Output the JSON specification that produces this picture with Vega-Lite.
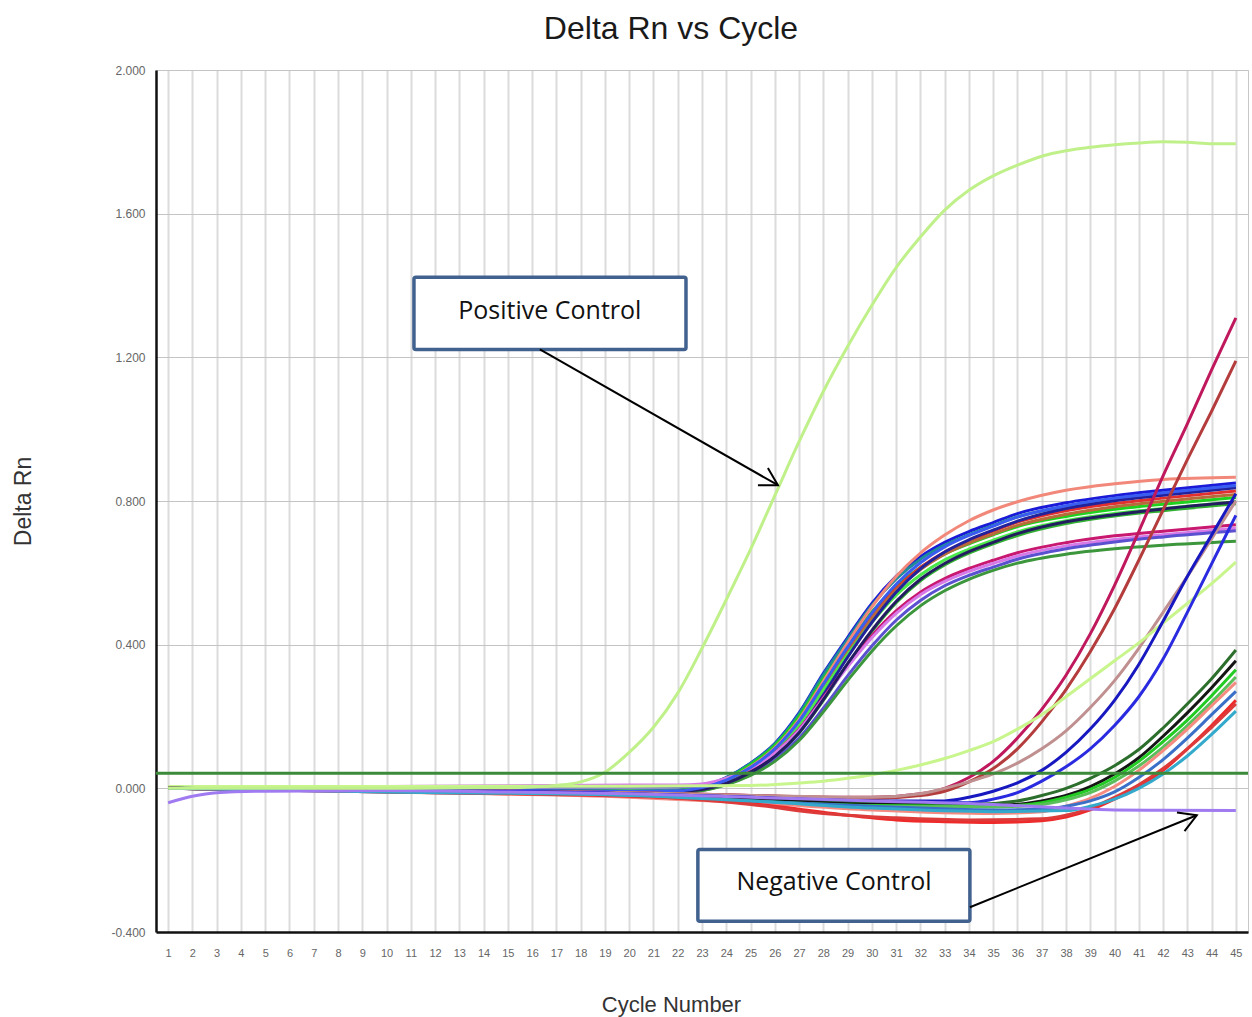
{
"$schema": "https://vega.github.io/schema/vega-lite/v6.json",
"width": 1092, "height": 862,
"autosize": {"type": "none"},
"padding": {"left": 156, "top": 70, "right": 4, "bottom": 85},
"background": "white",
"title": {"text": "Delta Rn vs Cycle", "fontSize": 32, "font": "Liberation Sans", "fontWeight": "normal", "color": "#1a1a1a", "anchor": "middle", "frame": "group", "dx": -31, "offset": -7, "baseline": "alphabetic"},
"config": {"view": {"stroke": "#c8c8c8", "strokeWidth": 1}, "font": "Liberation Sans", "axisX": {"labelOverlap": false}},
"datasets": {
"curves": [
{"s":"A","c":1,"v":0.002},{"s":"A","c":5,"v":0},{"s":"A","c":10,"v":-0.003},{"s":"A","c":15,"v":-0.006},{"s":"A","c":20,"v":-0.008},{"s":"A","c":22,"v":-0.006},{"s":"A","c":23,"v":0.005},{"s":"A","c":24,"v":0.03},{"s":"A","c":25,"v":0.07},{"s":"A","c":26,"v":0.125},{"s":"A","c":27,"v":0.21},{"s":"A","c":28,"v":0.32},{"s":"A","c":29,"v":0.42},{"s":"A","c":30,"v":0.515},{"s":"A","c":31,"v":0.59},{"s":"A","c":32,"v":0.645},{"s":"A","c":33,"v":0.685},{"s":"A","c":34,"v":0.715},{"s":"A","c":35,"v":0.74},{"s":"A","c":36,"v":0.765},{"s":"A","c":38,"v":0.795},{"s":"A","c":40,"v":0.815},{"s":"A","c":42,"v":0.83},{"s":"A","c":45,"v":0.85},
{"s":"B","c":1,"v":0},{"s":"B","c":5,"v":-0.002},{"s":"B","c":10,"v":-0.004},{"s":"B","c":15,"v":-0.008},{"s":"B","c":20,"v":-0.01},{"s":"B","c":22,"v":-0.008},{"s":"B","c":23,"v":0.004},{"s":"B","c":24,"v":0.029},{"s":"B","c":25,"v":0.069},{"s":"B","c":26,"v":0.123},{"s":"B","c":27,"v":0.207},{"s":"B","c":28,"v":0.316},{"s":"B","c":29,"v":0.415},{"s":"B","c":30,"v":0.509},{"s":"B","c":31,"v":0.583},{"s":"B","c":32,"v":0.638},{"s":"B","c":33,"v":0.677},{"s":"B","c":34,"v":0.706},{"s":"B","c":35,"v":0.732},{"s":"B","c":36,"v":0.756},{"s":"B","c":38,"v":0.785},{"s":"B","c":40,"v":0.806},{"s":"B","c":42,"v":0.82},{"s":"B","c":45,"v":0.84},
{"s":"C","c":1,"v":0.003},{"s":"C","c":5,"v":0.001},{"s":"C","c":10,"v":-0.002},{"s":"C","c":15,"v":-0.005},{"s":"C","c":20,"v":-0.007},{"s":"C","c":22,"v":-0.005},{"s":"C","c":23,"v":0.005},{"s":"C","c":24,"v":0.028},{"s":"C","c":25,"v":0.066},{"s":"C","c":26,"v":0.119},{"s":"C","c":27,"v":0.2},{"s":"C","c":28,"v":0.305},{"s":"C","c":29,"v":0.4},{"s":"C","c":30,"v":0.491},{"s":"C","c":31,"v":0.562},{"s":"C","c":32,"v":0.615},{"s":"C","c":33,"v":0.653},{"s":"C","c":34,"v":0.681},{"s":"C","c":35,"v":0.706},{"s":"C","c":36,"v":0.729},{"s":"C","c":38,"v":0.757},{"s":"C","c":40,"v":0.777},{"s":"C","c":42,"v":0.791},{"s":"C","c":45,"v":0.81},
{"s":"D","c":1,"v":0.002},{"s":"D","c":5,"v":0},{"s":"D","c":10,"v":-0.004},{"s":"D","c":15,"v":-0.008},{"s":"D","c":20,"v":-0.01},{"s":"D","c":22,"v":-0.009},{"s":"D","c":23,"v":0},{"s":"D","c":24,"v":0.023},{"s":"D","c":25,"v":0.06},{"s":"D","c":26,"v":0.113},{"s":"D","c":27,"v":0.192},{"s":"D","c":28,"v":0.298},{"s":"D","c":29,"v":0.405},{"s":"D","c":30,"v":0.505},{"s":"D","c":31,"v":0.59},{"s":"D","c":32,"v":0.655},{"s":"D","c":33,"v":0.705},{"s":"D","c":34,"v":0.745},{"s":"D","c":35,"v":0.775},{"s":"D","c":36,"v":0.798},{"s":"D","c":38,"v":0.83},{"s":"D","c":40,"v":0.848},{"s":"D","c":42,"v":0.86},{"s":"D","c":45,"v":0.866},
{"s":"E","c":1,"v":0},{"s":"E","c":5,"v":-0.003},{"s":"E","c":10,"v":-0.006},{"s":"E","c":15,"v":-0.01},{"s":"E","c":20,"v":-0.014},{"s":"E","c":22,"v":-0.013},{"s":"E","c":23,"v":-0.004},{"s":"E","c":24,"v":0.018},{"s":"E","c":25,"v":0.055},{"s":"E","c":26,"v":0.106},{"s":"E","c":27,"v":0.181},{"s":"E","c":28,"v":0.283},{"s":"E","c":29,"v":0.384},{"s":"E","c":30,"v":0.478},{"s":"E","c":31,"v":0.556},{"s":"E","c":32,"v":0.615},{"s":"E","c":33,"v":0.658},{"s":"E","c":34,"v":0.689},{"s":"E","c":35,"v":0.716},{"s":"E","c":36,"v":0.741},{"s":"E","c":38,"v":0.773},{"s":"E","c":40,"v":0.793},{"s":"E","c":42,"v":0.808},{"s":"E","c":45,"v":0.828},
{"s":"F","c":1,"v":0.001},{"s":"F","c":5,"v":-0.001},{"s":"F","c":10,"v":-0.004},{"s":"F","c":15,"v":-0.007},{"s":"F","c":20,"v":-0.01},{"s":"F","c":22,"v":-0.009},{"s":"F","c":23,"v":-0.001},{"s":"F","c":24,"v":0.021},{"s":"F","c":25,"v":0.056},{"s":"F","c":26,"v":0.106},{"s":"F","c":27,"v":0.18},{"s":"F","c":28,"v":0.28},{"s":"F","c":29,"v":0.38},{"s":"F","c":30,"v":0.474},{"s":"F","c":31,"v":0.551},{"s":"F","c":32,"v":0.609},{"s":"F","c":33,"v":0.652},{"s":"F","c":34,"v":0.683},{"s":"F","c":35,"v":0.708},{"s":"F","c":36,"v":0.732},{"s":"F","c":38,"v":0.763},{"s":"F","c":40,"v":0.784},{"s":"F","c":42,"v":0.799},{"s":"F","c":45,"v":0.818},
{"s":"G","c":1,"v":0.002},{"s":"G","c":5,"v":0},{"s":"G","c":10,"v":-0.003},{"s":"G","c":15,"v":-0.006},{"s":"G","c":20,"v":-0.009},{"s":"G","c":22,"v":-0.007},{"s":"G","c":23,"v":0.001},{"s":"G","c":24,"v":0.022},{"s":"G","c":25,"v":0.055},{"s":"G","c":26,"v":0.104},{"s":"G","c":27,"v":0.177},{"s":"G","c":28,"v":0.274},{"s":"G","c":29,"v":0.372},{"s":"G","c":30,"v":0.462},{"s":"G","c":31,"v":0.538},{"s":"G","c":32,"v":0.594},{"s":"G","c":33,"v":0.636},{"s":"G","c":34,"v":0.666},{"s":"G","c":35,"v":0.691},{"s":"G","c":36,"v":0.714},{"s":"G","c":38,"v":0.745},{"s":"G","c":40,"v":0.765},{"s":"G","c":42,"v":0.779},{"s":"G","c":45,"v":0.798},
{"s":"H","c":1,"v":0},{"s":"H","c":5,"v":-0.002},{"s":"H","c":10,"v":-0.005},{"s":"H","c":15,"v":-0.009},{"s":"H","c":20,"v":-0.012},{"s":"H","c":22,"v":-0.011},{"s":"H","c":23,"v":-0.006},{"s":"H","c":24,"v":0.012},{"s":"H","c":25,"v":0.043},{"s":"H","c":26,"v":0.088},{"s":"H","c":27,"v":0.154},{"s":"H","c":28,"v":0.245},{"s":"H","c":29,"v":0.345},{"s":"H","c":30,"v":0.437},{"s":"H","c":31,"v":0.517},{"s":"H","c":32,"v":0.578},{"s":"H","c":33,"v":0.622},{"s":"H","c":34,"v":0.655},{"s":"H","c":35,"v":0.681},{"s":"H","c":36,"v":0.704},{"s":"H","c":38,"v":0.737},{"s":"H","c":40,"v":0.758},{"s":"H","c":42,"v":0.773},{"s":"H","c":45,"v":0.792},
{"s":"I","c":1,"v":0.001},{"s":"I","c":5,"v":-0.001},{"s":"I","c":10,"v":-0.004},{"s":"I","c":15,"v":-0.008},{"s":"I","c":20,"v":-0.01},{"s":"I","c":22,"v":-0.009},{"s":"I","c":23,"v":-0.004},{"s":"I","c":24,"v":0.014},{"s":"I","c":25,"v":0.046},{"s":"I","c":26,"v":0.093},{"s":"I","c":27,"v":0.163},{"s":"I","c":28,"v":0.26},{"s":"I","c":29,"v":0.365},{"s":"I","c":30,"v":0.462},{"s":"I","c":31,"v":0.546},{"s":"I","c":32,"v":0.611},{"s":"I","c":33,"v":0.658},{"s":"I","c":34,"v":0.692},{"s":"I","c":35,"v":0.719},{"s":"I","c":36,"v":0.744},{"s":"I","c":38,"v":0.779},{"s":"I","c":40,"v":0.801},{"s":"I","c":42,"v":0.816},{"s":"I","c":45,"v":0.837},
{"s":"J","c":1,"v":0.004},{"s":"J","c":5,"v":0.004},{"s":"J","c":10,"v":0.004},{"s":"J","c":15,"v":0.005},{"s":"J","c":20,"v":0.006},{"s":"J","c":22,"v":0.006},{"s":"J","c":23,"v":0.01},{"s":"J","c":24,"v":0.026},{"s":"J","c":25,"v":0.055},{"s":"J","c":26,"v":0.099},{"s":"J","c":27,"v":0.164},{"s":"J","c":28,"v":0.253},{"s":"J","c":29,"v":0.343},{"s":"J","c":30,"v":0.425},{"s":"J","c":31,"v":0.494},{"s":"J","c":32,"v":0.546},{"s":"J","c":33,"v":0.584},{"s":"J","c":34,"v":0.612},{"s":"J","c":35,"v":0.635},{"s":"J","c":36,"v":0.656},{"s":"J","c":38,"v":0.684},{"s":"J","c":40,"v":0.703},{"s":"J","c":42,"v":0.716},{"s":"J","c":45,"v":0.734},
{"s":"K","c":1,"v":0.003},{"s":"K","c":5,"v":0.004},{"s":"K","c":10,"v":0.005},{"s":"K","c":15,"v":0.007},{"s":"K","c":20,"v":0.009},{"s":"K","c":22,"v":0.009},{"s":"K","c":23,"v":0.012},{"s":"K","c":24,"v":0.028},{"s":"K","c":25,"v":0.056},{"s":"K","c":26,"v":0.098},{"s":"K","c":27,"v":0.162},{"s":"K","c":28,"v":0.25},{"s":"K","c":29,"v":0.338},{"s":"K","c":30,"v":0.419},{"s":"K","c":31,"v":0.487},{"s":"K","c":32,"v":0.539},{"s":"K","c":33,"v":0.576},{"s":"K","c":34,"v":0.604},{"s":"K","c":35,"v":0.626},{"s":"K","c":36,"v":0.647},{"s":"K","c":38,"v":0.675},{"s":"K","c":40,"v":0.693},{"s":"K","c":42,"v":0.706},{"s":"K","c":45,"v":0.724},
{"s":"L","c":1,"v":0.001},{"s":"L","c":5,"v":0.002},{"s":"L","c":10,"v":0.003},{"s":"L","c":15,"v":0.004},{"s":"L","c":20,"v":0.004},{"s":"L","c":22,"v":0.004},{"s":"L","c":23,"v":0.005},{"s":"L","c":24,"v":0.016},{"s":"L","c":25,"v":0.041},{"s":"L","c":26,"v":0.081},{"s":"L","c":27,"v":0.14},{"s":"L","c":28,"v":0.223},{"s":"L","c":29,"v":0.313},{"s":"L","c":30,"v":0.396},{"s":"L","c":31,"v":0.468},{"s":"L","c":32,"v":0.523},{"s":"L","c":33,"v":0.564},{"s":"L","c":34,"v":0.593},{"s":"L","c":35,"v":0.616},{"s":"L","c":36,"v":0.638},{"s":"L","c":38,"v":0.667},{"s":"L","c":40,"v":0.686},{"s":"L","c":42,"v":0.7},{"s":"L","c":45,"v":0.717},
{"s":"M","c":1,"v":0},{"s":"M","c":5,"v":-0.002},{"s":"M","c":10,"v":-0.005},{"s":"M","c":15,"v":-0.009},{"s":"M","c":20,"v":-0.012},{"s":"M","c":22,"v":-0.011},{"s":"M","c":23,"v":-0.006},{"s":"M","c":24,"v":0.01},{"s":"M","c":25,"v":0.036},{"s":"M","c":26,"v":0.075},{"s":"M","c":27,"v":0.133},{"s":"M","c":28,"v":0.213},{"s":"M","c":29,"v":0.3},{"s":"M","c":30,"v":0.382},{"s":"M","c":31,"v":0.452},{"s":"M","c":32,"v":0.508},{"s":"M","c":33,"v":0.55},{"s":"M","c":34,"v":0.582},{"s":"M","c":35,"v":0.607},{"s":"M","c":36,"v":0.627},{"s":"M","c":38,"v":0.652},{"s":"M","c":40,"v":0.667},{"s":"M","c":42,"v":0.677},{"s":"M","c":45,"v":0.688},
{"s":"O","c":1,"v":0.001},{"s":"O","c":5,"v":0},{"s":"O","c":10,"v":-0.003},{"s":"O","c":15,"v":-0.006},{"s":"O","c":20,"v":-0.009},{"s":"O","c":22,"v":-0.008},{"s":"O","c":23,"v":-0.003},{"s":"O","c":24,"v":0.014},{"s":"O","c":25,"v":0.044},{"s":"O","c":26,"v":0.089},{"s":"O","c":27,"v":0.155},{"s":"O","c":28,"v":0.247},{"s":"O","c":29,"v":0.347},{"s":"O","c":30,"v":0.44},{"s":"O","c":31,"v":0.52},{"s":"O","c":32,"v":0.582},{"s":"O","c":33,"v":0.626},{"s":"O","c":34,"v":0.659},{"s":"O","c":35,"v":0.685},{"s":"O","c":36,"v":0.709},{"s":"O","c":38,"v":0.742},{"s":"O","c":40,"v":0.762},{"s":"O","c":42,"v":0.778},{"s":"O","c":45,"v":0.797},
{"s":"P","c":1,"v":0.002},{"s":"P","c":5,"v":0},{"s":"P","c":10,"v":-0.003},{"s":"P","c":15,"v":-0.006},{"s":"P","c":20,"v":-0.008},{"s":"P","c":22,"v":-0.007},{"s":"P","c":23,"v":0.002},{"s":"P","c":24,"v":0.023},{"s":"P","c":25,"v":0.058},{"s":"P","c":26,"v":0.11},{"s":"P","c":27,"v":0.187},{"s":"P","c":28,"v":0.29},{"s":"P","c":29,"v":0.393},{"s":"P","c":30,"v":0.488},{"s":"P","c":31,"v":0.568},{"s":"P","c":32,"v":0.628},{"s":"P","c":33,"v":0.672},{"s":"P","c":34,"v":0.704},{"s":"P","c":35,"v":0.73},{"s":"P","c":36,"v":0.755},{"s":"P","c":38,"v":0.787},{"s":"P","c":40,"v":0.808},{"s":"P","c":42,"v":0.823},{"s":"P","c":45,"v":0.843},
{"s":"LC1","c":1,"v":0},{"s":"LC1","c":10,"v":-0.005},{"s":"LC1","c":20,"v":-0.012},{"s":"LC1","c":25,"v":-0.02},{"s":"LC1","c":28,"v":-0.025},{"s":"LC1","c":30,"v":-0.025},{"s":"LC1","c":32,"v":-0.015},{"s":"LC1","c":33,"v":0},{"s":"LC1","c":34,"v":0.03},{"s":"LC1","c":35,"v":0.075},{"s":"LC1","c":36,"v":0.14},{"s":"LC1","c":37,"v":0.22},{"s":"LC1","c":38,"v":0.315},{"s":"LC1","c":39,"v":0.43},{"s":"LC1","c":40,"v":0.565},{"s":"LC1","c":41,"v":0.715},{"s":"LC1","c":42,"v":0.87},{"s":"LC1","c":43,"v":1.015},{"s":"LC1","c":44,"v":1.165},{"s":"LC1","c":45,"v":1.31},
{"s":"LC2","c":1,"v":0},{"s":"LC2","c":10,"v":-0.005},{"s":"LC2","c":20,"v":-0.012},{"s":"LC2","c":25,"v":-0.02},{"s":"LC2","c":28,"v":-0.025},{"s":"LC2","c":30,"v":-0.028},{"s":"LC2","c":32,"v":-0.02},{"s":"LC2","c":33,"v":-0.008},{"s":"LC2","c":34,"v":0.018},{"s":"LC2","c":35,"v":0.055},{"s":"LC2","c":36,"v":0.11},{"s":"LC2","c":37,"v":0.185},{"s":"LC2","c":38,"v":0.275},{"s":"LC2","c":39,"v":0.38},{"s":"LC2","c":40,"v":0.5},{"s":"LC2","c":41,"v":0.635},{"s":"LC2","c":42,"v":0.775},{"s":"LC2","c":43,"v":0.915},{"s":"LC2","c":44,"v":1.05},{"s":"LC2","c":45,"v":1.19},
{"s":"LRB","c":1,"v":0},{"s":"LRB","c":10,"v":-0.005},{"s":"LRB","c":20,"v":-0.012},{"s":"LRB","c":25,"v":-0.02},{"s":"LRB","c":30,"v":-0.025},{"s":"LRB","c":32,"v":-0.015},{"s":"LRB","c":33,"v":0},{"s":"LRB","c":34,"v":0.018},{"s":"LRB","c":35,"v":0.04},{"s":"LRB","c":36,"v":0.07},{"s":"LRB","c":37,"v":0.11},{"s":"LRB","c":38,"v":0.16},{"s":"LRB","c":39,"v":0.225},{"s":"LRB","c":40,"v":0.3},{"s":"LRB","c":41,"v":0.39},{"s":"LRB","c":42,"v":0.49},{"s":"LRB","c":43,"v":0.59},{"s":"LRB","c":44,"v":0.695},{"s":"LRB","c":45,"v":0.8},
{"s":"LLG","c":1,"v":0.005},{"s":"LLG","c":10,"v":0.005},{"s":"LLG","c":20,"v":0.006},{"s":"LLG","c":25,"v":0.008},{"s":"LLG","c":27,"v":0.015},{"s":"LLG","c":28,"v":0.02},{"s":"LLG","c":29,"v":0.028},{"s":"LLG","c":30,"v":0.038},{"s":"LLG","c":31,"v":0.05},{"s":"LLG","c":32,"v":0.065},{"s":"LLG","c":33,"v":0.083},{"s":"LLG","c":34,"v":0.105},{"s":"LLG","c":35,"v":0.13},{"s":"LLG","c":36,"v":0.165},{"s":"LLG","c":37,"v":0.205},{"s":"LLG","c":38,"v":0.255},{"s":"LLG","c":39,"v":0.305},{"s":"LLG","c":40,"v":0.355},{"s":"LLG","c":41,"v":0.405},{"s":"LLG","c":42,"v":0.46},{"s":"LLG","c":43,"v":0.515},{"s":"LLG","c":44,"v":0.57},{"s":"LLG","c":45,"v":0.63},
{"s":"LBA","c":1,"v":0},{"s":"LBA","c":10,"v":-0.005},{"s":"LBA","c":20,"v":-0.015},{"s":"LBA","c":25,"v":-0.025},{"s":"LBA","c":30,"v":-0.035},{"s":"LBA","c":33,"v":-0.035},{"s":"LBA","c":34,"v":-0.025},{"s":"LBA","c":35,"v":-0.008},{"s":"LBA","c":36,"v":0.015},{"s":"LBA","c":37,"v":0.05},{"s":"LBA","c":38,"v":0.1},{"s":"LBA","c":39,"v":0.165},{"s":"LBA","c":40,"v":0.245},{"s":"LBA","c":41,"v":0.345},{"s":"LBA","c":42,"v":0.465},{"s":"LBA","c":43,"v":0.59},{"s":"LBA","c":44,"v":0.705},{"s":"LBA","c":45,"v":0.82},
{"s":"LBB","c":1,"v":0},{"s":"LBB","c":10,"v":-0.005},{"s":"LBB","c":20,"v":-0.015},{"s":"LBB","c":25,"v":-0.025},{"s":"LBB","c":30,"v":-0.038},{"s":"LBB","c":34,"v":-0.04},{"s":"LBB","c":35,"v":-0.03},{"s":"LBB","c":36,"v":-0.012},{"s":"LBB","c":37,"v":0.02},{"s":"LBB","c":38,"v":0.06},{"s":"LBB","c":39,"v":0.11},{"s":"LBB","c":40,"v":0.175},{"s":"LBB","c":41,"v":0.255},{"s":"LBB","c":42,"v":0.36},{"s":"LBB","c":43,"v":0.49},{"s":"LBB","c":44,"v":0.625},{"s":"LBB","c":45,"v":0.76},
{"s":"VDG","c":1,"v":0},{"s":"VDG","c":10,"v":-0.008},{"s":"VDG","c":20,"v":-0.02},{"s":"VDG","c":25,"v":-0.03},{"s":"VDG","c":30,"v":-0.042},{"s":"VDG","c":34,"v":-0.045},{"s":"VDG","c":36,"v":-0.035},{"s":"VDG","c":37,"v":-0.02},{"s":"VDG","c":38,"v":0},{"s":"VDG","c":39,"v":0.028},{"s":"VDG","c":40,"v":0.063},{"s":"VDG","c":41,"v":0.108},{"s":"VDG","c":42,"v":0.168},{"s":"VDG","c":43,"v":0.235},{"s":"VDG","c":44,"v":0.305},{"s":"VDG","c":45,"v":0.385},
{"s":"VBK","c":1,"v":0},{"s":"VBK","c":10,"v":-0.008},{"s":"VBK","c":20,"v":-0.02},{"s":"VBK","c":25,"v":-0.03},{"s":"VBK","c":30,"v":-0.045},{"s":"VBK","c":35,"v":-0.048},{"s":"VBK","c":37,"v":-0.035},{"s":"VBK","c":38,"v":-0.02},{"s":"VBK","c":39,"v":0.005},{"s":"VBK","c":40,"v":0.04},{"s":"VBK","c":41,"v":0.085},{"s":"VBK","c":42,"v":0.145},{"s":"VBK","c":43,"v":0.21},{"s":"VBK","c":44,"v":0.28},{"s":"VBK","c":45,"v":0.355},
{"s":"VG","c":1,"v":0},{"s":"VG","c":10,"v":-0.008},{"s":"VG","c":20,"v":-0.02},{"s":"VG","c":25,"v":-0.035},{"s":"VG","c":30,"v":-0.048},{"s":"VG","c":35,"v":-0.05},{"s":"VG","c":37,"v":-0.04},{"s":"VG","c":38,"v":-0.025},{"s":"VG","c":39,"v":-0.003},{"s":"VG","c":40,"v":0.03},{"s":"VG","c":41,"v":0.075},{"s":"VG","c":42,"v":0.13},{"s":"VG","c":43,"v":0.19},{"s":"VG","c":44,"v":0.258},{"s":"VG","c":45,"v":0.33},
{"s":"VGM","c":1,"v":0},{"s":"VGM","c":10,"v":-0.008},{"s":"VGM","c":20,"v":-0.022},{"s":"VGM","c":25,"v":-0.036},{"s":"VGM","c":30,"v":-0.05},{"s":"VGM","c":35,"v":-0.052},{"s":"VGM","c":37,"v":-0.045},{"s":"VGM","c":38,"v":-0.032},{"s":"VGM","c":39,"v":-0.012},{"s":"VGM","c":40,"v":0.02},{"s":"VGM","c":41,"v":0.062},{"s":"VGM","c":42,"v":0.115},{"s":"VGM","c":43,"v":0.175},{"s":"VGM","c":44,"v":0.24},{"s":"VGM","c":45,"v":0.31},
{"s":"VSA","c":1,"v":0},{"s":"VSA","c":10,"v":-0.01},{"s":"VSA","c":20,"v":-0.025},{"s":"VSA","c":25,"v":-0.04},{"s":"VSA","c":30,"v":-0.06},{"s":"VSA","c":35,"v":-0.07},{"s":"VSA","c":37,"v":-0.065},{"s":"VSA","c":38,"v":-0.05},{"s":"VSA","c":39,"v":-0.028},{"s":"VSA","c":40,"v":0.005},{"s":"VSA","c":41,"v":0.05},{"s":"VSA","c":42,"v":0.105},{"s":"VSA","c":43,"v":0.165},{"s":"VSA","c":44,"v":0.23},{"s":"VSA","c":45,"v":0.295},
{"s":"VSB","c":1,"v":0},{"s":"VSB","c":10,"v":-0.01},{"s":"VSB","c":20,"v":-0.02},{"s":"VSB","c":25,"v":-0.035},{"s":"VSB","c":30,"v":-0.05},{"s":"VSB","c":35,"v":-0.06},{"s":"VSB","c":37,"v":-0.058},{"s":"VSB","c":38,"v":-0.05},{"s":"VSB","c":39,"v":-0.035},{"s":"VSB","c":40,"v":-0.01},{"s":"VSB","c":41,"v":0.03},{"s":"VSB","c":42,"v":0.08},{"s":"VSB","c":43,"v":0.14},{"s":"VSB","c":44,"v":0.205},{"s":"VSB","c":45,"v":0.27},
{"s":"VR","c":1,"v":0},{"s":"VR","c":10,"v":-0.01},{"s":"VR","c":15,"v":-0.015},{"s":"VR","c":20,"v":-0.022},{"s":"VR","c":24,"v":-0.035},{"s":"VR","c":27,"v":-0.058},{"s":"VR","c":29,"v":-0.075},{"s":"VR","c":31,"v":-0.088},{"s":"VR","c":33,"v":-0.093},{"s":"VR","c":35,"v":-0.095},{"s":"VR","c":37,"v":-0.09},{"s":"VR","c":38,"v":-0.08},{"s":"VR","c":39,"v":-0.06},{"s":"VR","c":40,"v":-0.03},{"s":"VR","c":41,"v":0.005},{"s":"VR","c":42,"v":0.05},{"s":"VR","c":43,"v":0.11},{"s":"VR","c":44,"v":0.175},{"s":"VR","c":45,"v":0.245},
{"s":"VR2","c":1,"v":0},{"s":"VR2","c":10,"v":-0.008},{"s":"VR2","c":20,"v":-0.02},{"s":"VR2","c":25,"v":-0.045},{"s":"VR2","c":28,"v":-0.07},{"s":"VR2","c":31,"v":-0.082},{"s":"VR2","c":34,"v":-0.088},{"s":"VR2","c":37,"v":-0.085},{"s":"VR2","c":38,"v":-0.075},{"s":"VR2","c":39,"v":-0.055},{"s":"VR2","c":40,"v":-0.025},{"s":"VR2","c":41,"v":0.01},{"s":"VR2","c":42,"v":0.055},{"s":"VR2","c":43,"v":0.11},{"s":"VR2","c":44,"v":0.17},{"s":"VR2","c":45,"v":0.235},
{"s":"VT","c":1,"v":0},{"s":"VT","c":10,"v":-0.01},{"s":"VT","c":20,"v":-0.02},{"s":"VT","c":25,"v":-0.035},{"s":"VT","c":30,"v":-0.055},{"s":"VT","c":35,"v":-0.065},{"s":"VT","c":38,"v":-0.062},{"s":"VT","c":39,"v":-0.05},{"s":"VT","c":40,"v":-0.03},{"s":"VT","c":41,"v":0},{"s":"VT","c":42,"v":0.04},{"s":"VT","c":43,"v":0.09},{"s":"VT","c":44,"v":0.15},{"s":"VT","c":45,"v":0.215},
{"s":"NC","c":1,"v":-0.04},{"s":"NC","c":2,"v":-0.022},{"s":"NC","c":3,"v":-0.012},{"s":"NC","c":5,"v":-0.008},{"s":"NC","c":10,"v":-0.006},{"s":"NC","c":15,"v":-0.01},{"s":"NC","c":20,"v":-0.015},{"s":"NC","c":25,"v":-0.025},{"s":"NC","c":30,"v":-0.035},{"s":"NC","c":35,"v":-0.045},{"s":"NC","c":38,"v":-0.055},{"s":"NC","c":40,"v":-0.06},{"s":"NC","c":42,"v":-0.061},{"s":"NC","c":45,"v":-0.062},
{"s":"PC","c":1,"v":0},{"s":"PC","c":5,"v":0},{"s":"PC","c":10,"v":0},{"s":"PC","c":15,"v":0.002},{"s":"PC","c":16,"v":0.004},{"s":"PC","c":17,"v":0.008},{"s":"PC","c":18,"v":0.018},{"s":"PC","c":19,"v":0.045},{"s":"PC","c":20,"v":0.1},{"s":"PC","c":21,"v":0.17},{"s":"PC","c":22,"v":0.265},{"s":"PC","c":23,"v":0.39},{"s":"PC","c":24,"v":0.525},{"s":"PC","c":25,"v":0.665},{"s":"PC","c":26,"v":0.815},{"s":"PC","c":27,"v":0.965},{"s":"PC","c":28,"v":1.105},{"s":"PC","c":29,"v":1.23},{"s":"PC","c":30,"v":1.345},{"s":"PC","c":31,"v":1.45},{"s":"PC","c":32,"v":1.535},{"s":"PC","c":33,"v":1.61},{"s":"PC","c":34,"v":1.665},{"s":"PC","c":35,"v":1.705},{"s":"PC","c":36,"v":1.735},{"s":"PC","c":37,"v":1.76},{"s":"PC","c":38,"v":1.775},{"s":"PC","c":39,"v":1.785},{"s":"PC","c":40,"v":1.792},{"s":"PC","c":41,"v":1.797},{"s":"PC","c":42,"v":1.8},{"s":"PC","c":43,"v":1.799},{"s":"PC","c":44,"v":1.795},{"s":"PC","c":45,"v":1.795}
]
},
"encoding": {
"x": {"field": "c", "type": "quantitative", "scale": {"domain": [0.5, 45.5], "nice": false, "zero": false},
 "axis": {"values": [1,2,3,4,5,6,7,8,9,10,11,12,13,14,15,16,17,18,19,20,21,22,23,24,25,26,27,28,29,30,31,32,33,34,35,36,37,38,39,40,41,42,43,44,45], "format": "d", "title": "Cycle Number", "titleFontSize": 22, "titleFontWeight": "normal", "titleColor": "#333333", "titleX": 515, "titleY": 79, "titleBaseline": "alphabetic", "titleAlign": "center", "labelFontSize": 11, "labelColor": "#666666", "ticks": false, "tickSize": 0, "labelPadding": 15, "labelFlush": false, "labelOverlap": false, "labelSeparation": 0, "domainColor": "#111111", "domainWidth": 2.5, "gridColor": "#dcdcdc", "gridWidth": 2}},
"y": {"field": "v", "type": "quantitative", "scale": {"domain": [-0.4, 2.0], "nice": false, "zero": false},
 "axis": {"values": [-0.4, 0, 0.4, 0.8, 1.2, 1.6, 2.0], "labelExpr": "replace(format(datum.value, '.3f'), '\u2212', '-')", "title": "Delta Rn", "titleFontSize": 23, "titleFontWeight": "normal", "titleColor": "#333333", "titleX": -126, "titleY": 431, "titleBaseline": "alphabetic", "titleAlign": "center", "labelFontSize": 12, "labelColor": "#666666", "ticks": false, "tickSize": 0, "labelPadding": 11, "domainColor": "#111111", "domainWidth": 2.5, "gridColor": "#c4c4c4", "gridWidth": 1}}
},
"layer": [
{
"data": {"name": "curves"},
"mark": {"type": "line", "interpolate": "monotone", "strokeWidth": 3, "strokeJoin": "round", "clip": true},
"encoding": {
"color": {"field": "s", "type": "nominal", "legend": null,
 "scale": {"domain": ["A","B","C","D","E","F","G","H","I","J","K","L","M","O","P","LC1","LC2","LRB","LLG","LBA","LBB","VDG","VBK","VG","VGM","VSA","VSB","VR","VR2","VT","NC","PC"],
 "range": ["#1a1ad8","#1f8a9a","#1ed21e","#f2887a","#e23030","#b86a3a","#4ae84a","#33b033","#22229c","#c81870","#d77ae8","#5a50d0","#3c963c","#241c60","#3a5cf0","#c0185c","#b43c3c","#c09090","#c8f58c","#1818c0","#2a2ae0","#2c6e2c","#151515","#22cc22","#5abf5a","#f48a80","#3a70c8","#ee2a2a","#dd3a3a","#33aacc","#a07af0","#c0f08a"]}}
}
},
{
"data": {"values": [{"c": 0.5, "c2": 45.5, "v": 0.042}]},
"mark": {"type": "rule", "color": "#3a8a3a", "strokeWidth": 3},
"encoding": {"x2": {"field": "c2"}}
},
{
"data": {"values": [{"c": 11.13, "c2": 22.34, "v": 1.423, "v2": 1.222}, {"c": 22.83, "c2": 34.04, "v": -0.17, "v2": -0.37}]},
"mark": {"type": "rect", "fill": "white", "stroke": "#41618f", "strokeWidth": 3.5, "cornerRadius": 2},
"encoding": {"x2": {"field": "c2"}, "y2": {"field": "v2"}}
},
{
"data": {"values": [{"label": "Positive Control", "c": 16.73, "v": 1.33}, {"label": "Negative Control", "c": 28.44, "v": -0.262}]},
"mark": {"type": "text", "font": "Open Sans", "fontSize": 25, "color": "#111111", "align": "center", "baseline": "middle"},
"encoding": {"text": {"field": "label"}}
},
{
"data": {"values": [{"c": 16.32, "v": 1.222, "c2": 26.13, "v2": 0.844}, {"c": 34.04, "v": -0.331, "c2": 43.39, "v2": -0.075}]},
"mark": {"type": "rule", "color": "#000000", "strokeWidth": 2},
"encoding": {"x2": {"field": "c2"}, "y2": {"field": "v2"}}
},
{
"data": {"values": [{"c": 26.13, "v": 0.844}]},
"mark": {"type": "point", "shape": "M-1,-0.58L0,0L-1,0.58", "filled": false, "stroke": "#000000", "strokeWidth": 2, "size": 1200, "angle": 29.7, "opacity": 1}
},
{
"data": {"values": [{"c": 43.39, "v": -0.075}]},
"mark": {"type": "point", "shape": "M-1,-0.58L0,0L-1,0.58", "filled": false, "stroke": "#000000", "strokeWidth": 2, "size": 1200, "angle": 337.9, "opacity": 1}
}
]
}
